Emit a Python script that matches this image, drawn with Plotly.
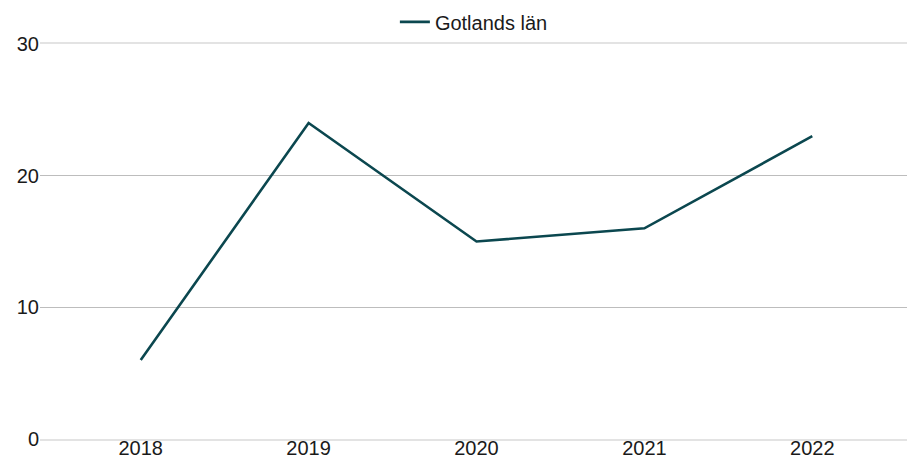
import plotly.graph_objects as go

years = ["2018", "2019", "2020", "2021", "2022"]
values = [6, 24, 15, 16, 23]
series_name = "Gotlands län"
y_ticks = [0, 10, 20, 30]

fig = go.Figure()
fig.add_trace(go.Scatter(
    x=years, y=values, mode="lines", name=series_name,
    line=dict(color="#0b474f", width=2.6),
    showlegend=True,
))

font = "Liberation Sans, Arial, sans-serif"
fig.update_layout(
    width=907, height=451,
    margin=dict(l=32, r=2, t=36, b=20, autoexpand=False),
    paper_bgcolor="white", plot_bgcolor="white",
    font=dict(family=font, size=20, color="#1a1a1a"),
    showlegend=True,
    legend=dict(orientation="h", x=0.497, xanchor="center", y=1.056, yanchor="middle",
                font=dict(size=20), itemwidth=30, bgcolor="rgba(0,0,0,0)"),
    xaxis=dict(type="category", range=[-0.6, 4.6], showgrid=False,
               showline=True, mirror=True, linecolor="#e3e3e3", linewidth=1.5,
               ticks="", tickfont=dict(size=20), ticklabelstandoff=-10),
    yaxis=dict(range=[0, 30], tickvals=y_ticks, showgrid=True, gridcolor="#bdbdbd",
               gridwidth=1, zeroline=False, ticks="", tickfont=dict(size=20)),
)

fig.write_html("out.html")
